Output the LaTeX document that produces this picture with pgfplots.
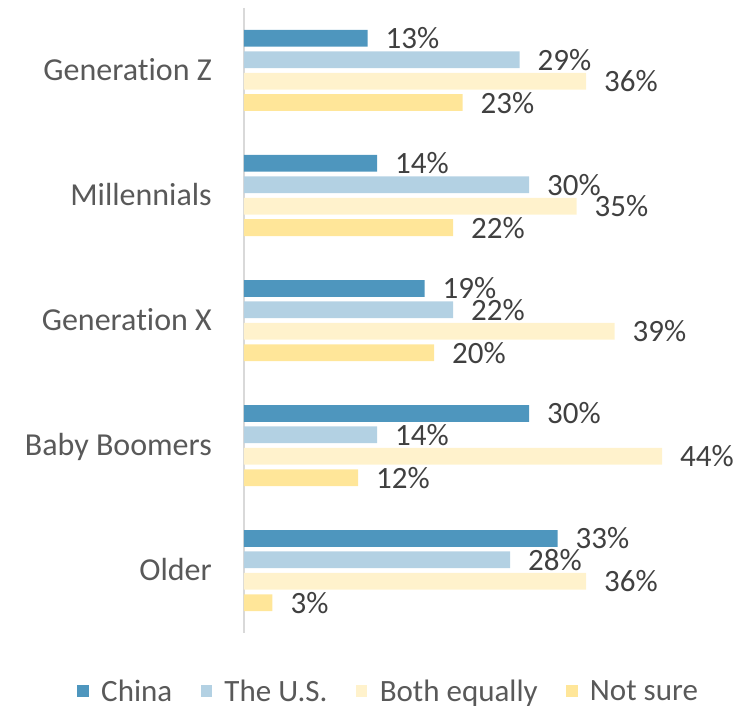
\documentclass[border=0pt]{standalone}
\usepackage{pgfplots}
\pgfplotsset{compat=1.18}
\usepackage{fontspec}
\setmainfont{Carlito}[RawFeature={-liga;-dlig;-clig}]
\definecolor{cChina}{HTML}{4E96BE}
\definecolor{cUS}{HTML}{B3D1E3}
\definecolor{cBoth}{HTML}{FFF2CC}
\definecolor{cNot}{HTML}{FFE699}
\definecolor{axgray}{HTML}{D9D9D9}
\definecolor{lblgray}{HTML}{595959}
\definecolor{datgray}{HTML}{404040}
\begin{document}
\begin{tikzpicture}
\begin{axis}[
 scale only axis, width=475pt, height=625pt,
 xmin=0, xmax=50, ymin=-0.5, ymax=4.5, y dir=reverse,
 xbar, bar width=0.134,
 axis x line=none, axis y line=left,
 y axis line style={draw=axgray, line width=2pt, -},
 ytick={0,1,2,3,4},
 yticklabels={Generation Z, Millennials, Generation X, Baby Boomers, Older},
 major tick length=0pt,
 yticklabel style={font=\fontsize{32}{38}\selectfont, text=lblgray, anchor=base east, inner sep=0pt, xshift=-32pt, yshift=-10pt},
 clip=false,
 point meta=x,
 nodes near coords={\pgfmathprintnumber[assume math mode=true]{\pgfplotspointmeta}\%},
 nodes near coords style={font=\fontsize{31}{36}\selectfont, text=datgray, anchor=base west, inner sep=0pt, xshift=18pt, yshift=-10.5pt},
 legend columns=4,
 legend style={draw=none, fill=none, at={(axis description cs:0.3025,-0.0928)}, anchor=center, font=\fontsize{31}{36}\selectfont, text=lblgray, inner sep=0pt, /tikz/every odd column/.append style={column sep=12.3pt}, /tikz/every even column/.append style={column sep=28.4pt}, nodes={inner sep=0pt}},
 legend image code/.code={\fill[#1,draw=none] (0pt,-5.75pt) rectangle (11.5pt,5.75pt);},
]
\addplot[fill=cChina, draw=none, bar shift=-0.257] coordinates {(13,0) (14,1) (19,2) (30,3) (33,4)};
\addplot[fill=cUS, draw=none, bar shift=-0.0856] coordinates {(29,0) (30,1) (22,2) (14,3) (28,4)};
\addplot[fill=cBoth, draw=none, bar shift=0.0856] coordinates {(36,0) (35,1) (39,2) (44,3) (36,4)};
\addplot[fill=cNot, draw=none, bar shift=0.257] coordinates {(23,0) (22,1) (20,2) (12,3) (3,4)};
\legend{China, The U.S., Both equally, Not sure}
\end{axis}
\pgfresetboundingbox
\useasboundingbox (-244pt,-75pt) rectangle (499pt,633pt);
\end{tikzpicture}
\end{document}
